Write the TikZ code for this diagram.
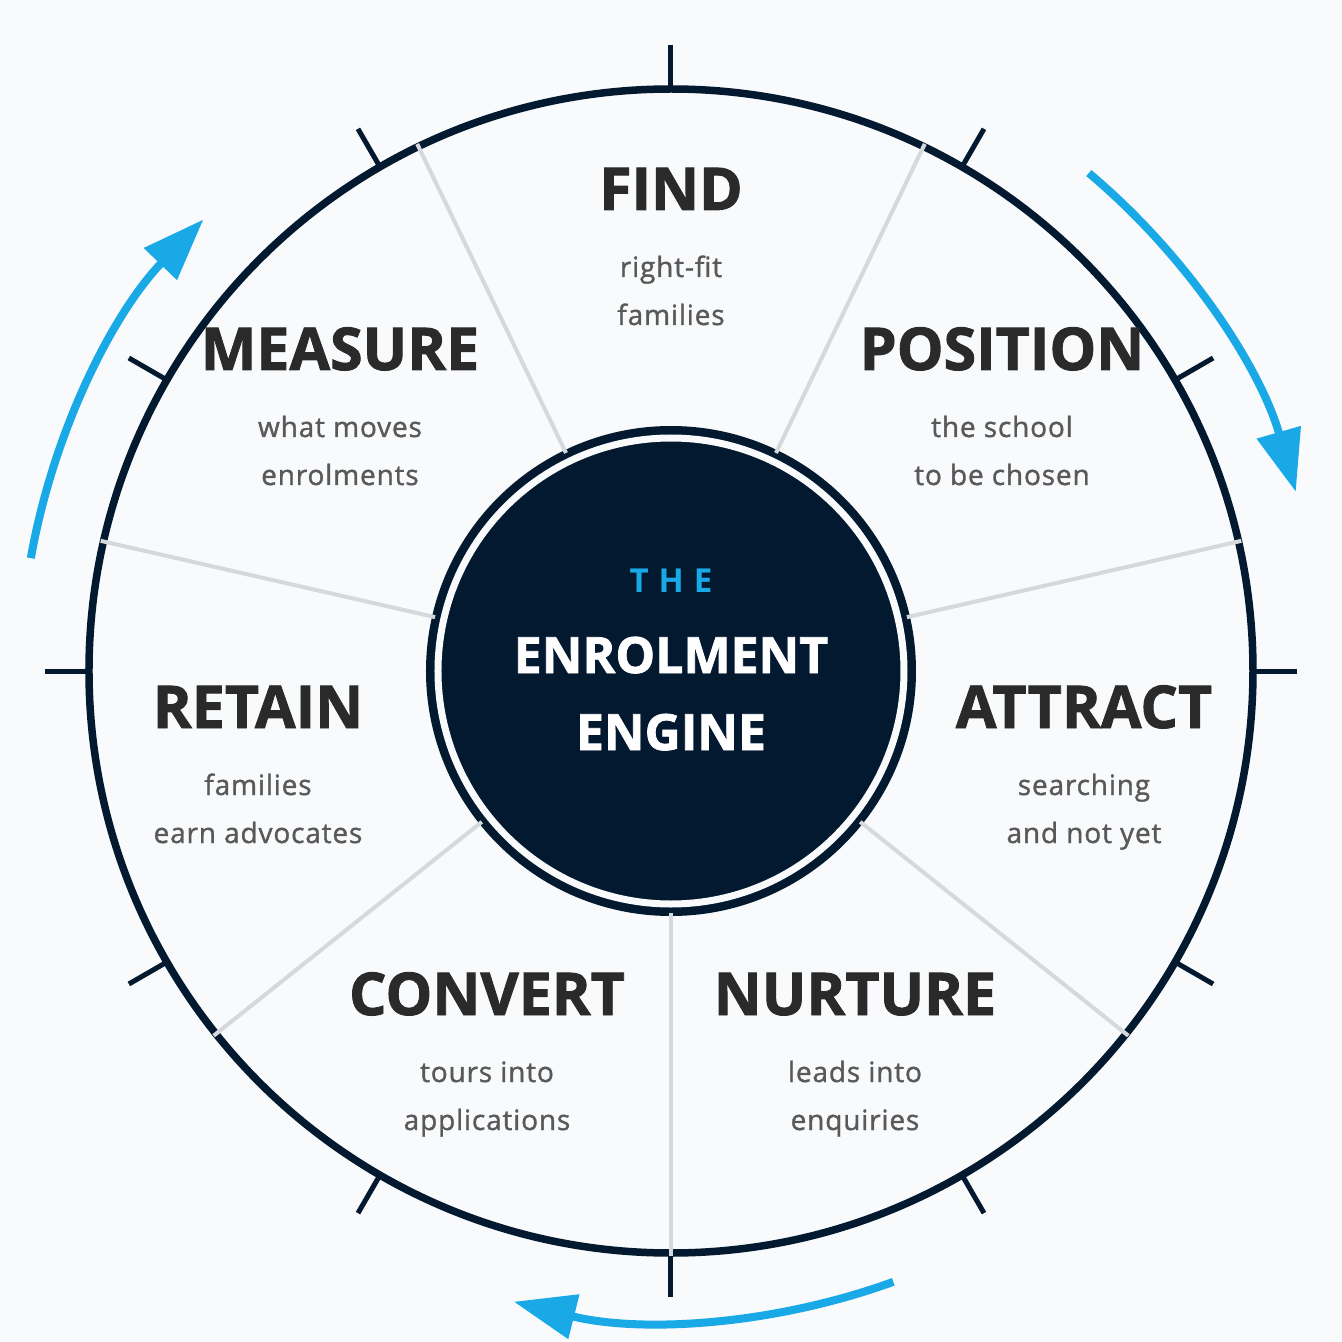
\documentclass[tikz,border=0pt]{standalone}
\usepackage{fontspec}
\setmainfont{Open Sans}
\newfontfamily\spacedfont{Open Sans}[LetterSpace=30]
\newfontfamily\stagefont{Open Sans}[FakeBold=1.5]
\newfontfamily\blurbfont{Open Sans}[LetterSpace=3,FakeBold=1.2]
\usetikzlibrary{arrows.meta}
\definecolor{navy}{HTML}{03192F}
\definecolor{paper}{HTML}{F8FAFC}
\definecolor{rule}{HTML}{D5D9DD}
\definecolor{sky}{HTML}{19A9E6}
\definecolor{ink}{HTML}{2A2A2A}
\definecolor{slate}{HTML}{595959}

\begin{document}
\begin{tikzpicture}[
  x=1pt, y=1pt,
  tick/.style={navy, line width=5pt},
  divider/.style={rule, line width=4pt},
  flow/.style={sky, line width=8pt, -{Triangle[length=62pt,width=44pt]}},
  stage/.style={anchor=base, inner sep=0pt, text=ink, font=\stagefont\fontsize{59}{60}\selectfont\bfseries},
  blurb/.style={anchor=base, inner sep=0pt, text=slate, font=\blurbfont\fontsize{28}{29}\selectfont},
  hubtext/.style={anchor=base, inner sep=0pt, text=white, font=\stagefont\fontsize{50}{51}\selectfont\bfseries}
]
\fill[paper] (-671,-671) rectangle (671,671);
\useasboundingbox (-671,-671) rectangle (671,671);

% outer wheel
\draw[navy, line width=7.5pt] (0,0) circle[radius=582];
\foreach \a in {0,30,...,330}
  \draw[tick] (\a:582) -- (\a:626);

% hub
\fill[navy] (0,0) circle[radius=245];
\draw[paper, line width=7pt] (0,0) circle[radius=233];

% sector dividers
\foreach \i in {0,...,6}
  \draw[divider] ({270+\i*360/7}:242) -- ({270+\i*360/7}:585);

% cycle arrows
\draw[flow] (50:650) arc[start angle=50, end angle=16, radius=650];
\draw[flow] (170:650) arc[start angle=170, end angle=136, radius=650];
\draw[flow] (-70:650) arc[start angle=-70, end angle=-104, radius=650];

% stages
\foreach \nm/\x/\y/\ttl/\la/\lb in {
  find/0/461/FIND/right-fit/families,
  position/331/301/POSITION/the school/to be chosen,
  attract/413/-57/ATTRACT/searching/and not yet,
  nurture/184/-344/NURTURE/leads into/enquiries,
  convert/-184/-344/CONVERT/tours into/applications,
  retain/-413/-57/RETAIN/families/earn advocates,
  measure/-331/301/MEASURE/what moves/enrolments}
{
  \node[stage] (\nm) at (\x,\y) {\ttl};
  \node[blurb] (\nm-a) at (\x,\y-67) {\la};
  \node[blurb] (\nm-b) at (\x,\y-115) {\lb};
}

% centre
\node[anchor=base, inner sep=0pt, text=sky, font=\spacedfont\fontsize{33}{34}\selectfont\bfseries] (the) at (0,79) {THE};
\node[hubtext] (enrol) at (0,-2) {ENROLMENT};
\node[hubtext] (engine) at (0,-79) {ENGINE};
\end{tikzpicture}
\end{document}
